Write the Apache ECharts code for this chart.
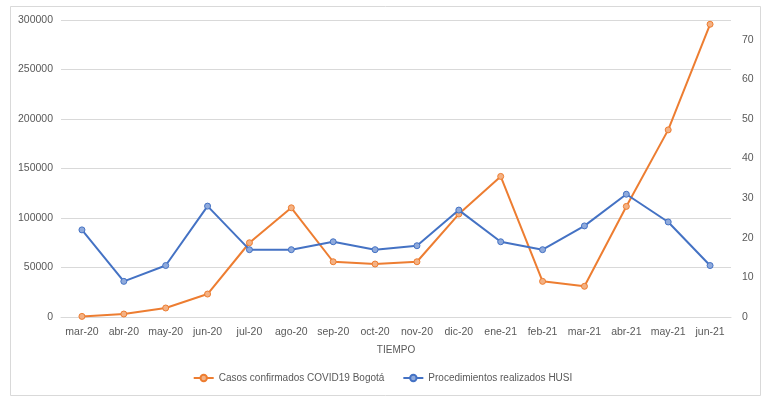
<!DOCTYPE html>
<html>
<head>
<meta charset="utf-8">
<script src="https://cdn.jsdelivr.net/npm/echarts@6/dist/echarts.min.js"></script>
<style>
  html, body { margin: 0; padding: 0; background: #fff; }
  #chart { width: 765px; height: 397px; }
</style>
</head>
<body>
<div id="chart"></div>
<script>
// Monthly categories
const months = ['mar-20', 'abr-20', 'may-20', 'jun-20', 'jul-20', 'ago-20', 'sep-20', 'oct-20',
                'nov-20', 'dic-20', 'ene-21', 'feb-21', 'mar-21', 'abr-21', 'may-21', 'jun-21'];

// Confirmed COVID-19 cases in Bogotá (left axis)
const casosBogota = [600, 3000, 9100, 23200, 75000, 110300, 55800, 53500,
                     55800, 104000, 142000, 36000, 31000, 111700, 189000, 295700];

// Procedures performed at HUSI (right axis)
const procedimientosHusi = [22, 9, 13, 28, 17, 17, 19, 17, 18, 27, 19, 17, 23, 31, 24, 13];

const seriesNames = ['Casos confirmados COVID19 Bogotá', 'Procedimientos realizados HUSI'];
const axisTitle = 'TIEMPO';

const FONT = '"Liberation Sans", sans-serif';
const TEXT = '#595959';
const GRID = '#d9d9d9';
const ORANGE = '#ED7D31';
const BLUE = '#4472C4';

const chart = echarts.init(document.getElementById('chart'), null, { renderer: 'canvas' });

chart.setOption({
  animation: false,
  backgroundColor: '#ffffff',
  graphic: [{
    type: 'rect',
    shape: { x: 10.5, y: 6.5, width: 750, height: 389 },
    style: { fill: 'none', stroke: '#d9d9d9', lineWidth: 1 },
    silent: true,
    z: -1
  }],
  grid: { left: 61, right: 34, top: 20, bottom: 80, containLabel: false },
  legend: {
    bottom: 9,
    left: 'center',
    itemGap: 18,
    itemWidth: 20,
    itemHeight: 8,
    textStyle: { color: TEXT, fontFamily: FONT, fontSize: 10 },
    data: seriesNames
  },
  xAxis: {
    type: 'category',
    data: months,
    boundaryGap: true,
    name: axisTitle,
    nameLocation: 'middle',
    nameGap: 28,
    nameTextStyle: { color: TEXT, fontFamily: FONT, fontSize: 10 },
    axisLine: { show: true, lineStyle: { color: GRID, width: 1 } },
    axisTick: { show: false },
    axisLabel: { color: TEXT, fontFamily: FONT, fontSize: 10.5, margin: 10, interval: 0 }
  },
  yAxis: [{
    type: 'value',
    min: 0,
    max: 300000,
    interval: 50000,
    axisLine: { show: false },
    axisTick: { show: false },
    splitLine: { lineStyle: { color: GRID, width: 1 } },
    axisLabel: { color: TEXT, fontFamily: FONT, fontSize: 10.5, margin: 8,
                 formatter: v => String(v) }
  }, {
    type: 'value',
    min: 0,
    max: 75,
    interval: 10,
    position: 'right',
    axisLine: { show: false },
    axisTick: { show: false },
    splitLine: { show: false },
    axisLabel: { color: TEXT, fontFamily: FONT, fontSize: 10.5, margin: 11, showMaxLabel: false,
                 formatter: v => String(v) }
  }],
  series: [{
    name: seriesNames[0],
    type: 'line',
    yAxisIndex: 0,
    data: casosBogota,
    symbol: 'circle',
    symbolSize: 6,
    lineStyle: { color: ORANGE, width: 2 },
    itemStyle: { color: '#F4B183', borderColor: ORANGE, borderWidth: 1 },
    z: 2
  }, {
    name: seriesNames[1],
    type: 'line',
    yAxisIndex: 1,
    data: procedimientosHusi,
    symbol: 'circle',
    symbolSize: 6,
    lineStyle: { color: BLUE, width: 2 },
    itemStyle: { color: '#8FAADC', borderColor: BLUE, borderWidth: 1 },
    z: 3
  }]
});
</script>
</body>
</html>
